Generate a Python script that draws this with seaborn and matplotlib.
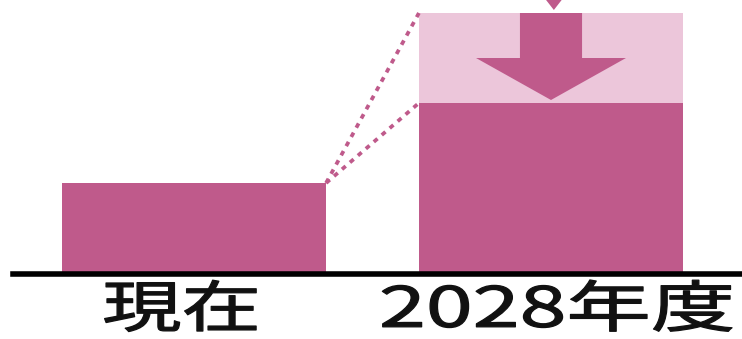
import matplotlib
matplotlib.use("Agg")
import matplotlib.pyplot as plt
import matplotlib.patheffects as pe
from matplotlib.transforms import Affine2D
import seaborn as sns
import pandas as pd

# categories and values (arbitrary units, baseline = 0)
categories = ["現在", "2028年度"]
current_value = 91
before_value = 261   # 2028 level before the reduction (light block)
after_value = 171    # 2028 level after the reduction (dark block)

DARK = "#BF5A8B"
LIGHT = "#ECC6DA"
BAR_W = 0.74

sns.set_theme(style="white")
plt.rcParams["font.family"] = ["Noto Sans CJK JP", "DejaVu Sans"]


class Stretch(pe.AbstractPathEffect):
    """Widen glyphs about their own centre, shift them, and thicken strokes a little."""

    def __init__(self, sx, dx=0.0, stroke=0.9):
        super().__init__(offset=(dx, 0))
        self.sx = sx
        self.stroke = stroke

    def draw_path(self, renderer, gc, tpath, affine, rgbFace=None):
        v = tpath.vertices
        cx = (v[:, 0].min() + v[:, 0].max()) / 2 if len(v) else 0
        t = (Affine2D().translate(-cx, 0).scale(self.sx, 1).translate(cx, 0)
             + affine + self._offset_transform(renderer))
        gc0 = renderer.new_gc()
        gc0.copy_properties(gc)
        gc0.set_linewidth(self.stroke)
        gc0.set_foreground(rgbFace)
        gc0.set_joinstyle("round")
        renderer.draw_path(gc0, tpath, t, rgbFace)
        gc0.restore()


fig = plt.figure(figsize=(7.42, 3.39), dpi=100)
ax = fig.add_axes([13 / 742, 65 / 339, 1 - 13 / 742, 1 - 65 / 339])

back = pd.DataFrame({"cat": categories, "val": [current_value, before_value]})
front = pd.DataFrame({"cat": categories, "val": [current_value, after_value]})

sns.barplot(data=back, x="cat", y="val", hue="cat", palette=[DARK, LIGHT],
            width=BAR_W, saturation=1, legend=False, linewidth=0, ax=ax, zorder=1)
sns.barplot(data=front, x="cat", y="val", color=DARK,
            width=BAR_W, saturation=1, linewidth=0, ax=ax, zorder=2)

# dotted guides from the current bar to the 2028 levels
x0 = 0 + BAR_W / 2
x1 = 1 - BAR_W / 2
for target in (before_value, after_value):
    ax.plot([x0, x1], [current_value, target], color=DARK, lw=2.7,
            linestyle=(0, (1.3, 1.5)), dash_capstyle="butt", zorder=3)

# downward arrow showing the reduction
cx = 1.0
shaft_hw, head_hw, head_len, gap = 0.087, 0.21, 42, 3
tip = after_value + gap
head_base = tip + head_len
ax.fill([cx - shaft_hw, cx + shaft_hw, cx + shaft_hw, cx + head_hw, cx,
         cx - head_hw, cx - shaft_hw],
        [before_value, before_value, head_base, head_base, tip,
         head_base, head_base], color=DARK, lw=0, zorder=4)

# incoming arrow tip from above
cx2, small_hw = 1.008, 0.024
ax.fill([cx2 - small_hw, cx2 + small_hw, cx2],
        [before_value + 14, before_value + 14, before_value + gap],
        color=DARK, lw=0, zorder=4)

ax.set_xlim(-0.507, 1.535)
ax.set_ylim(0, 274)
ax.set_xlabel("")
ax.set_ylabel("")
ax.set_yticks([])
for side in ("top", "left", "right"):
    ax.spines[side].set_visible(False)
ax.spines["bottom"].set_linewidth(4)
ax.spines["bottom"].set_color("black")
ax.spines["bottom"].set_zorder(5)
ax.tick_params(axis="x", length=0, pad=6, labelsize=40, labelcolor="#111111")
label_effects = [Stretch(1.43, -9.5), Stretch(1.52, 4.0)]
for lbl, eff in zip(ax.get_xticklabels(), label_effects):
    lbl.set_path_effects([eff])
ax.set_facecolor("white")
fig.patch.set_facecolor("white")

fig.savefig("out.png", dpi=100)
